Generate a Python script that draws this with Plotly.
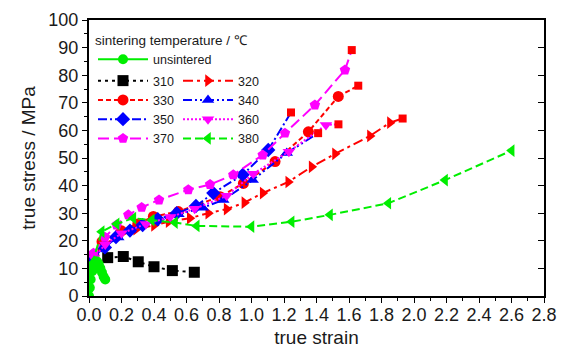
import plotly.graph_objects as go

# ---------------- data ----------------
unsint_x = [0.0, 0.005, 0.01, 0.02, 0.03, 0.04, 0.05, 0.06, 0.07, 0.08, 0.09, 0.1]
unsint_y = [0.0, 3.0, 6.0, 9.0, 11.0, 12.5, 12.5, 11.5, 10.0, 8.5, 7.0, 6.0]

s310_x = [0.115, 0.211, 0.303, 0.40, 0.513, 0.648]
s310_y = [13.9, 14.3, 12.4, 10.6, 9.2, 8.6]

s320_x = [0.02, 0.07, 0.18, 0.29, 0.40, 0.49, 0.62, 0.734, 0.847, 0.956, 1.069, 1.226, 1.37, 1.514, 1.729, 1.852]
s320_y = [11.8, 17.7, 21.7, 24.2, 25.6, 26.9, 28.2, 30.0, 31.5, 33.8, 37.3, 41.3, 46.8, 51.5, 58.0, 62.8]

s330_x = [0.03, 0.08, 0.20, 0.30, 0.396, 0.55, 0.806, 0.95, 1.145, 1.35, 1.534]
s330_y = [14.8, 19.7, 23.6, 26.1, 28.8, 30.6, 36.0, 40.8, 48.7, 59.5, 72.3]

s340_x = [0.03, 0.088, 0.18, 0.252, 0.40, 0.55, 0.70, 0.826, 1.007, 1.217]
s340_y = [13.8, 17.8, 21.2, 24.0, 27.1, 29.6, 32.0, 34.8, 42.0, 51.8]

s350_x = [0.017, 0.098, 0.166, 0.252, 0.33, 0.423, 0.54, 0.658, 0.765, 0.946, 1.103]
s350_y = [13.0, 17.6, 21.3, 23.7, 25.7, 27.8, 30.0, 32.6, 37.3, 43.9, 52.9]

s360_x = [0.03, 0.10, 0.20, 0.35, 0.50, 0.65, 0.847, 1.011, 1.23, 1.458]
s360_y = [13.8, 18.7, 22.7, 26.1, 28.6, 31.6, 36.3, 44.3, 52.3, 62.0]

s370_x = [0.027, 0.098, 0.17, 0.242, 0.324, 0.431, 0.611, 0.745, 0.888, 1.069, 1.206, 1.39, 1.575]
s370_y = [15.5, 21.3, 25.7, 29.4, 32.1, 34.8, 38.5, 40.4, 43.9, 51.1, 59.0, 69.2, 81.9]

s380_x = [0.02, 0.078, 0.17, 0.273, 0.386, 0.529, 0.663, 1.0, 1.247, 1.483, 1.842, 2.191, 2.601]
s380_y = [11.8, 23.3, 26.1, 28.2, 27.5, 26.6, 25.4, 25.1, 26.9, 29.4, 33.6, 42.0, 52.7]

# fracture points (red squares) that end several curves
frac_series = ["320", "330", "340", "350", "360", "370"]
frac_x = [1.93, 1.657, 1.41, 1.243, 1.535, 1.617]
frac_y = [64.3, 76.2, 59.0, 66.5, 62.2, 89.1]

x_ticks = [0.0, 0.2, 0.4, 0.6, 0.8, 1.0, 1.2, 1.4, 1.6, 1.8, 2.0, 2.2, 2.4, 2.6, 2.8]
y_ticks = [0, 10, 20, 30, 40, 50, 60, 70, 80, 90, 100]

# ---------------- figure ----------------
FONT = "Arial, Liberation Sans, sans-serif"
fig = go.Figure()

series = [
    # name, x, y, color, dash, symbol, legend
    ("310", s310_x, s310_y, "#000000", "3px,4px", "square", "legend2"),
    ("320", s320_x, s320_y, "#ff0000", "10px,4px,3px,4px", "triangle-right", "legend3"),
    ("330", s330_x, s330_y, "#ff0000", "5px,3px", "circle", "legend2"),
    ("340", s340_x, s340_y, "#0000ff", "9px,3px,2px,3px,2px,3px", "triangle-up", "legend3"),
    ("350", s350_x, s350_y, "#0000ff", "9px,3px,2px,3px", "diamond", "legend2"),
    ("360", s360_x, s360_y, "#ff00ff", "2px,2px", "triangle-down", "legend3"),
    ("370", s370_x, s370_y, "#ff00ff", "11px,5px", "pentagon", "legend2"),
    ("380", s380_x, s380_y, "#00ee00", "8px,4px", "triangle-left", "legend3"),
]

for name, xs, ys, col, dash, sym, lg in series:
    if name in frac_series:
        i = frac_series.index(name)
        fig.add_trace(go.Scatter(
            x=[xs[-1], frac_x[i]], y=[ys[-1], frac_y[i]], mode="lines",
            line=dict(color=col, width=2, dash=dash), showlegend=False,
            hoverinfo="skip"))
    fig.add_trace(go.Scatter(
        x=xs, y=ys, name=name, mode="lines+markers", legend=lg,
        line=dict(color=col, width=2, dash=dash),
        marker=dict(symbol=sym, size=11, color=col, line=dict(width=0))))

fig.add_trace(go.Scatter(
    x=unsint_x, y=unsint_y, name="unsintered", mode="lines+markers", legend="legend",
    line=dict(color="#00ee00", width=2),
    marker=dict(symbol="circle", size=10, color="#00ee00")))

fig.add_trace(go.Scatter(
    x=frac_x, y=frac_y, mode="markers", showlegend=False,
    marker=dict(symbol="square", size=8, color="#ff0000")))

# invisible trace for the inward ticks of the right axis
fig.add_trace(go.Scatter(x=[0], y=[0], yaxis="y2", mode="markers",
                         marker=dict(opacity=0), showlegend=False, hoverinfo="skip"))

axis_common = dict(showgrid=False, zeroline=False, linecolor="black", linewidth=2,
                   tickcolor="black", tickwidth=1.2, ticks="outside", automargin=False,
                   tickfont=dict(family=FONT, size=18, color="#1a1a1a"))

PH = 276  # plot height in px (348 - 20 - 52)
fig.update_layout(
    width=564, height=348,
    margin=dict(l=89, r=20, t=20, b=52),
    paper_bgcolor="white", plot_bgcolor="white",
    font=dict(family=FONT, color="#1a1a1a"),
    xaxis=dict(range=[0, 2.8], tickvals=x_ticks, ticktext=[f"{v:.1f}" for v in x_ticks],
               ticklen=5, mirror=True, ticklabelstandoff=-4,
               minor=dict(dtick=0.1, ticklen=3, tickcolor="black", ticks="outside"),
               title=dict(text="true strain", font=dict(family=FONT, size=19), standoff=8),
               **axis_common),
    yaxis=dict(range=[0, 100], tickvals=y_ticks, ticklen=5, mirror=True,
               minor=dict(dtick=5, ticklen=3, tickcolor="black", ticks="outside"),
               title=dict(text="true stress / MPa", font=dict(family=FONT, size=19), standoff=8),
               **axis_common),
    yaxis2=dict(range=[0, 100], overlaying="y", side="right", tickvals=y_ticks,
                ticks="inside", ticklen=6, tickcolor="black", tickwidth=1.2, automargin=False,
                showticklabels=False, showgrid=False, zeroline=False, showline=False),
    legend=dict(x=(93 - 89) / 455, y=(PH - 7) / PH, xanchor="left", yanchor="top",
                bgcolor="rgba(0,0,0,0)", borderwidth=0, itemwidth=50,
                title=dict(text="sintering temperature / ℃", font=dict(family=FONT, size=13.5)),
                font=dict(family=FONT, size=12.5), tracegroupgap=0),
    legend2=dict(x=(93 - 89) / 455, y=(PH - 46) / PH, xanchor="left", yanchor="top",
                 bgcolor="rgba(0,0,0,0)", borderwidth=0, itemwidth=50,
                 font=dict(family=FONT, size=12.5), tracegroupgap=0),
    legend3=dict(x=(178 - 89) / 455, y=(PH - 46) / PH, xanchor="left", yanchor="top",
                 bgcolor="rgba(0,0,0,0)", borderwidth=0, itemwidth=50,
                 font=dict(family=FONT, size=12.5), tracegroupgap=0),
)

fig.write_html("out.html")
